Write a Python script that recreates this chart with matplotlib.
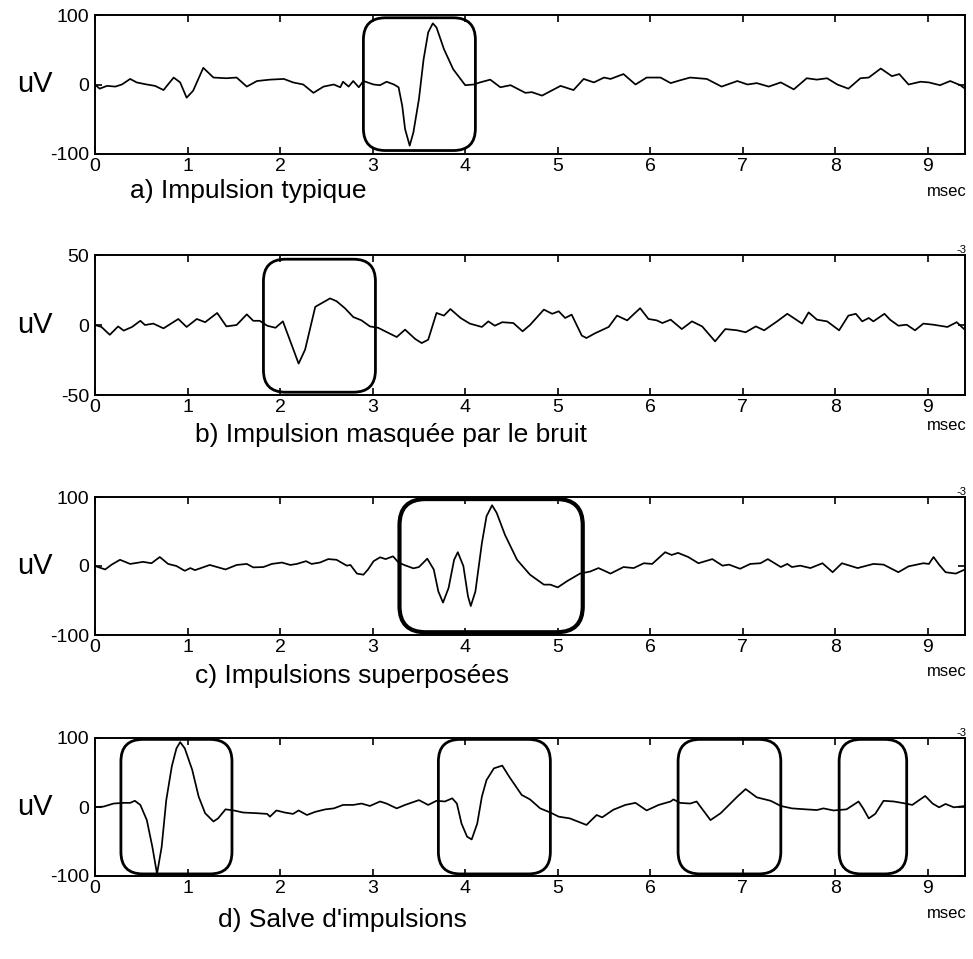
import matplotlib
matplotlib.use('Agg')
import matplotlib.pyplot as plt
from matplotlib.patches import FancyBboxPatch

plt.rcParams['font.family'] = ['Liberation Sans', 'DejaVu Sans']

# ---------------- data (time in msec, amplitude in uV) ----------------
t_a = [0.00, 0.05, 0.13, 0.22, 0.29, 0.38, 0.45, 0.56, 0.65, 0.74, 0.85, 0.92, 0.99, 1.06,
       1.17, 1.28, 1.42, 1.53, 1.64, 1.75, 1.89, 2.04, 2.14, 2.25, 2.36, 2.47, 2.58, 2.65,
       2.68, 2.74, 2.79, 2.85, 2.90, 3.01, 3.08, 3.15, 3.23, 3.28, 3.32, 3.35, 3.40, 3.44,
       3.50, 3.55, 3.60, 3.65, 3.69, 3.77, 3.87, 4.00, 4.09, 4.16, 4.27, 4.38, 4.49, 4.65,
       4.72, 4.83, 5.03, 5.17, 5.28, 5.39, 5.50, 5.57, 5.71, 5.84, 5.96, 6.11, 6.22, 6.32,
       6.43, 6.61, 6.77, 6.94, 7.05, 7.15, 7.28, 7.41, 7.55, 7.69, 7.80, 7.91, 8.02, 8.14,
       8.27, 8.36, 8.49, 8.61, 8.69, 8.79, 8.92, 9.01, 9.13, 9.24, 9.35, 9.40]
v_a = [0, -6, -2, -3, 0, 8, 3, 0, -2, -8, 10, 3, -19, -9,
       24, 10, 9, 10, -3, 5, 7, 8, 3, 0, -12, -3, 0, -4,
       4, -3, 5, -4, 5, 0, -1, 4, 0, -4, -31, -64, -88, -69,
       -21, 36, 75, 88, 82, 51, 22, -1, 0, 3, 7, -4, -1, -12,
       -11, -16, -2, -8, 8, 3, 10, 8, 15, 0, 10, 10, 2, 6,
       10, 8, -3, 5, 0, 2, -3, 3, -7, 9, 7, 9, 0, -6,
       9, 10, 23, 12, 15, 0, 4, 3, -1, 5, -1, -6]

t_b = [0.00, 0.07, 0.16, 0.25, 0.31, 0.40, 0.49, 0.54, 0.63, 0.74, 0.90, 0.99, 1.10, 1.19,
       1.32, 1.42, 1.53, 1.64, 1.71, 1.78, 1.86, 1.95, 2.03, 2.09, 2.20, 2.27, 2.38, 2.54,
       2.61, 2.70, 2.79, 2.88, 2.97, 3.06, 3.15, 3.26, 3.35, 3.46, 3.53, 3.60, 3.69, 3.77,
       3.84, 3.95, 4.05, 4.18, 4.25, 4.32, 4.40, 4.52, 4.62, 4.70, 4.85, 4.94, 5.01, 5.08,
       5.15, 5.26, 5.31, 5.40, 5.55, 5.64, 5.75, 5.89, 5.98, 6.07, 6.13, 6.22, 6.34, 6.45,
       6.56, 6.70, 6.81, 6.94, 7.03, 7.14, 7.23, 7.37, 7.48, 7.64, 7.71, 7.80, 7.91, 8.04,
       8.14, 8.22, 8.29, 8.36, 8.41, 8.53, 8.59, 8.68, 8.77, 8.86, 8.95, 9.06, 9.21, 9.31,
       9.39]
v_b = [0, -1.4, -7, -1, -4, -1.4, 3, 0, 1, -2.4, 4.3, -1.4, 4.3, 2,
       8.6, -1, 0, 7.6, 3, 3, -0.5, -2, 2.6, -8, -27.6, -17.6, 13, 19,
       17, 12, 5.7, 3.3, -1, -2, -5, -8.6, -3.3, -10, -12.9, -10.5, 8.6, 6.7,
       11.4, 5, 1, -1.4, 2.6, -0.5, 2, 1.4, -4.5, 0, 11, 8, 9.8, 5,
       7.4, -7.6, -9.3, -6, -1.4, 6.7, 3.3, 12, 4.3, 3.3, 1.4, 3.8, -2.9, 2.6,
       -1, -11.7, -2.9, -3.8, -5.2, -1, -3.8, 2.6, 8, 1, 9, 3.8, 2.6, -3.8,
       6.7, 8, 2.6, 5, 2.6, 8, 3.8, -0.5, 0.2, -3.8, 1, 0.2, -1.4, 2,
       -2.9]

t_c = [0.00, 0.11, 0.18, 0.27, 0.38, 0.52, 0.61, 0.70, 0.79, 0.88, 0.97, 1.03, 1.08, 1.24,
       1.41, 1.53, 1.64, 1.71, 1.82, 1.91, 2.02, 2.11, 2.18, 2.28, 2.34, 2.43, 2.52, 2.61,
       2.72, 2.76, 2.83, 2.90, 2.95, 3.01, 3.08, 3.14, 3.22, 3.28, 3.35, 3.44, 3.50, 3.59,
       3.66, 3.71, 3.76, 3.82, 3.88, 3.92, 3.98, 4.03, 4.06, 4.11, 4.18, 4.23, 4.29, 4.34,
       4.43, 4.56, 4.70, 4.85, 4.92, 5.00, 5.10, 5.24, 5.35, 5.44, 5.57, 5.71, 5.82, 5.93,
       6.02, 6.16, 6.23, 6.30, 6.41, 6.52, 6.67, 6.78, 6.85, 6.97, 7.08, 7.19, 7.27, 7.41,
       7.48, 7.53, 7.62, 7.73, 7.86, 7.97, 8.07, 8.24, 8.41, 8.52, 8.68, 8.79, 8.95, 9.01,
       9.06, 9.12, 9.19, 9.30, 9.40]
v_c = [0, -5, 2, 9, 3, 6, 4, 13, 3, 0, -7, -3, -6, 1.5,
       -5, 1.5, 3, -2, -1.5, 3, 5, 1.5, 3, 7, 3, 5, 10, 9,
       0.5, 1.5, -11, -12.6, -5, 7, 12.6, 10, 14, 5, 1, -3.4, -1.5, 10.6,
       -5, -37, -53, -32, 9, 20, 0, -44, -58, -37, 33, 72, 88, 77,
       45, 9, -12.6, -27, -27, -31, -22, -11, -8, -3, -11, -1.5, -3, 4,
       3, 20, 16, 19, 13, 4, 10, 0.5, 2, -4, 3, 4, 10, -1.5,
       3, -1.5, 0.5, -3, 4, -9, 4, -3, 3, 2, -9, -0.5, 4, 3,
       13, 2, -9, -11, -5]

t_d = [0.00, 0.09, 0.20, 0.31, 0.38, 0.43, 0.49, 0.56, 0.62, 0.67, 0.72, 0.77, 0.83, 0.88,
       0.92, 0.97, 1.05, 1.12, 1.19, 1.28, 1.33, 1.41, 1.50, 1.60, 1.75, 1.86, 1.89, 1.96,
       2.05, 2.14, 2.20, 2.29, 2.38, 2.49, 2.58, 2.68, 2.79, 2.88, 2.97, 3.08, 3.15, 3.26,
       3.35, 3.50, 3.60, 3.69, 3.78, 3.86, 3.91, 3.96, 4.02, 4.07, 4.13, 4.18, 4.23, 4.31,
       4.40, 4.48, 4.61, 4.70, 4.81, 4.92, 5.01, 5.13, 5.31, 5.42, 5.48, 5.60, 5.73, 5.84,
       5.96, 6.09, 6.22, 6.25, 6.32, 6.43, 6.50, 6.65, 6.76, 6.85, 6.94, 7.03, 7.15, 7.30,
       7.41, 7.53, 7.68, 7.80, 7.87, 7.98, 8.12, 8.25, 8.30, 8.36, 8.43, 8.52, 8.63, 8.76,
       8.83, 8.97, 9.05, 9.12, 9.19, 9.28, 9.40]
v_d = [0, 0.5, 5, 6, 6, 9, 3, -19, -58, -97, -58, 10, 59, 85,
       94, 85, 54, 15, -9, -21, -16.5, -3.4, -5, -8, -9, -10, -14, -5,
       -8, -10, -5, -11.6, -7, -3.4, -2, 3, 3, 5, 1.5, 8, 5, -2,
       3, 10, 3, 9, 8, 12.6, 5, -24, -43, -47, -24, 15, 39, 56,
       60, 43, 17.5, 11, -2, -8, -14, -16.5, -26, -11.6, -15, -4, 3, 6,
       -5, 3, 8, 11, 6, 5, 8, -19, -9, 3, 15, 26, 14, 9,
       1.5, -2, -3.4, -4.4, -2, -5, -3.4, 8, -2, -16.5, -10, 9, 8, 5,
       3, 16, 5, -0.5, 4.4, -0.5, 1.5]

# boxes: (x_start, x_end, y_bottom, y_top)
boxes_a = [(2.90, 4.11, -95, 96)]
boxes_b = [(1.82, 3.03, -48, 47)]
boxes_c = [(3.29, 5.27, -96, 97)]
boxes_d = [(0.28, 1.48, -97, 98), (3.71, 4.92, -97, 98), (6.30, 7.41, -97, 98), (8.04, 8.77, -97, 98)]

captions = ["a) Impulsion typique", "b) Impulsion masquée par le bruit",
            "c) Impulsions superposées", "d) Salve d'impulsions"]
ylims = [100, 50, 100, 100]
xticks = [0, 1, 2, 3, 4, 5, 6, 7, 8, 9]

# ---------------- layout ----------------
W, H = 973, 959
fig = plt.figure(figsize=(W / 100, H / 100), dpi=100)

panels = [
    dict(t=t_a, v=v_a, boxes=boxes_a, top=15, bot=154, cap=(130, 191), radius=22, lw=2.0, exp=False, msec=192),
    dict(t=t_b, v=v_b, boxes=boxes_b, top=255, bot=395, cap=(195, 435), radius=22, lw=2.0, exp=True, msec=426),
    dict(t=t_c, v=v_c, boxes=boxes_c, top=497, bot=635, cap=(195, 676), radius=26, lw=3.0, exp=True, msec=671),
    dict(t=t_d, v=v_d, boxes=boxes_d, top=738, bot=876, cap=(218, 920), radius=22, lw=2.0, exp=True, msec=913),
]

left_px, right_px = 95, 965
for i, p in enumerate(panels):
    ax = fig.add_axes([left_px / W, 1 - p['bot'] / H, (right_px - left_px) / W, (p['bot'] - p['top']) / H])
    ax.plot(p['t'], p['v'], color='black', lw=1.25, solid_joinstyle='round')
    yl = ylims[i]
    ax.set_xlim(0, 9.4)
    ax.set_ylim(-yl, yl)
    ax.set_xticks(xticks)
    ax.set_yticks([-yl, 0, yl])
    ax.set_yticklabels([str(-yl), '0', str(yl)])
    ax.tick_params(axis='both', direction='in', length=5, width=1.2, labelsize=14,
                   top=True, right=True, pad=4)
    ax.tick_params(axis='x', pad=3)
    for s in ax.spines.values():
        s.set_linewidth(1.4)
    ax.text(-0.069, 0.5, 'uV', transform=ax.transAxes, ha='center', va='center', fontsize=21)
    # msec label
    ax.text(1.002, 1 - (p['msec'] - p['top']) / (p['bot'] - p['top']), 'msec',
            transform=ax.transAxes, ha='right', va='center', fontsize=12)
    if p['exp']:
        ax.text(1.002, 1.0, '-3', transform=ax.transAxes, ha='right', va='bottom', fontsize=8)
    # rounded boxes
    px_per_x = (right_px - left_px) / 9.4
    px_per_y = (p['bot'] - p['top']) / (2 * yl)
    asp = px_per_x / px_per_y
    r = p['radius'] / px_per_x
    for (x0, x1, y0, y1) in p['boxes']:
        patch = FancyBboxPatch((x0, y0), x1 - x0, y1 - y0,
                               boxstyle=f"round,pad=0,rounding_size={r}",
                               mutation_aspect=asp, fill=False, ec='black', lw=p['lw'],
                               clip_on=False)
        ax.add_patch(patch)
    fig.text(p['cap'][0] / W, 1 - p['cap'][1] / H, captions[i], ha='left', va='center', fontsize=19)

fig.savefig('out.png', dpi=100, facecolor='white')
